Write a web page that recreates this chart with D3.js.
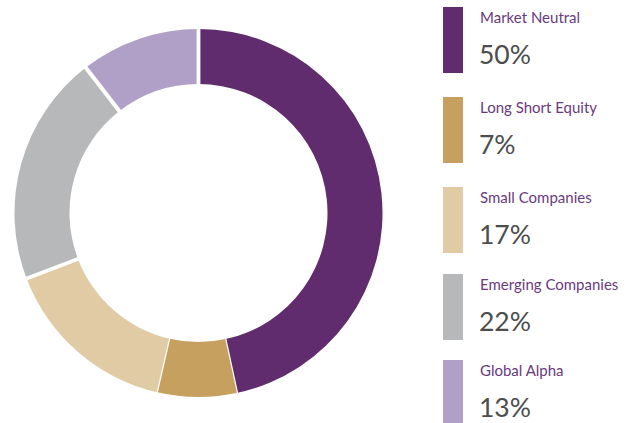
<!DOCTYPE html>
<html><head><meta charset="utf-8">
<script src="https://cdn.jsdelivr.net/npm/d3@7"></script>
<style>body{margin:0;background:#fff;}svg{display:block;}</style>
</head><body>
<svg id="chart" width="643" height="423"></svg>
<script>
const categories = ["Market Neutral", "Long Short Equity", "Small Companies", "Emerging Companies", "Global Alpha"];
// share of the ring as drawn in the picture
const sliceShares = [46.6, 7.0, 15.6, 20.3, 10.5];
// percentage labels as printed in the legend
const labels = ["50%", "7%", "17%", "22%", "13%"];
const colors = ["#612c6d", "#c6a05e", "#e0cba5", "#b7b8b9", "#b0a0c7"];

const svg = d3.select("#chart");
const cx = 198.5, cy = 213, rOuter = 184, rInner = 129;
const data = categories.map((c, i) => ({name: c, value: sliceShares[i], label: labels[i], color: colors[i]}));

const pie = d3.pie().value(d => d.value).sort(null);
const arcs = pie(data);
const arc = d3.arc().innerRadius(rInner).outerRadius(rOuter);

const g = svg.append("g").attr("transform", `translate(${cx},${cy})`);
g.selectAll("path.slice").data(arcs).enter().append("path")
  .attr("class", "slice")
  .attr("d", arc)
  .attr("fill", d => d.data.color);

// white separators between slices
const gapWidths = [3.8, 1.2, 1.2, 3.8, 4];
g.selectAll("line.sep").data(arcs).enter().append("line")
  .attr("class", "sep")
  .attr("x1", d => Math.sin(d.startAngle) * (rInner - 2))
  .attr("y1", d => -Math.cos(d.startAngle) * (rInner - 2))
  .attr("x2", d => Math.sin(d.startAngle) * (rOuter + 2))
  .attr("y2", d => -Math.cos(d.startAngle) * (rOuter + 2))
  .attr("stroke", "#fff")
  .attr("stroke-width", (d, i) => gapWidths[i]);

// legend (layout of rows)
const legendTops = [7, 97, 187, 274, 360];
const leg = svg.selectAll("g.leg").data(data).enter().append("g")
  .attr("class", "leg")
  .attr("transform", (d, i) => `translate(443,${legendTops[i]})`);
leg.append("rect").attr("x", 0).attr("y", 0).attr("width", 20).attr("height", 66)
  .attr("fill", d => d.color);
leg.append("text").attr("x", 37).attr("y", 16)
  .attr("font-family", "Lato, sans-serif").attr("font-size", 15)
  .attr("fill", "#6b3a7c").text(d => d.name);
leg.append("text").attr("x", 36).attr("y", 57)
  .attr("font-family", "Lato, sans-serif").attr("font-size", 26.5)
  .attr("fill", "#4d4d4d").text(d => d.label);
</script>
</body></html>
